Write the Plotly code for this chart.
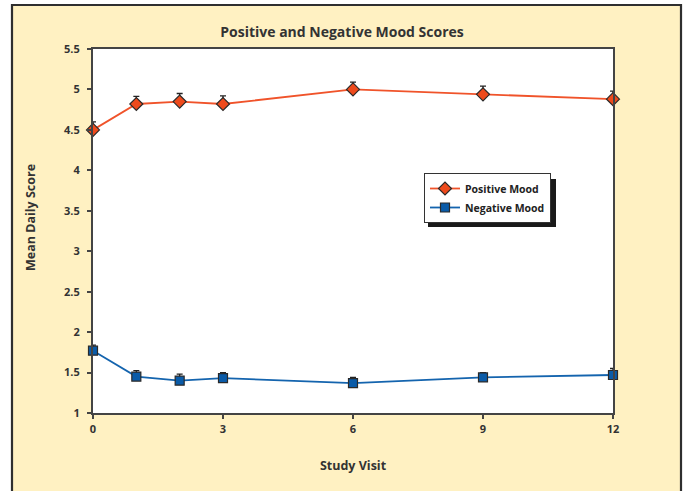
import plotly.graph_objects as go

# Mean daily mood scores by study visit (month)
visits = [0, 1, 2, 3, 6, 9, 12]
positive_mood = [4.50, 4.82, 4.85, 4.82, 5.00, 4.94, 4.88]
positive_err = [0.10, 0.095, 0.10, 0.10, 0.09, 0.10, 0.10]
negative_mood = [1.77, 1.45, 1.40, 1.43, 1.37, 1.44, 1.47]
negative_err = [0.07, 0.075, 0.08, 0.07, 0.07, 0.06, 0.08]

x_ticks = [0, 3, 6, 9, 12]
y_ticks = [1, 1.5, 2, 2.5, 3, 3.5, 4, 4.5, 5, 5.5]
y_labels = ["1", "1.5", "2", "2.5", "3", "3.5", "4", "4.5", "5", "5.5"]

FONT = "Open Sans"
INK = "#333333"

fig = go.Figure()

fig.add_trace(go.Scatter(
    x=visits, y=positive_mood, name="Positive Mood",
    mode="lines+markers",
    line=dict(color="#F0532A", width=1.8),
    marker=dict(symbol="diamond", size=10, color="#EE4A1C",
                line=dict(color="#2a2a2a", width=1.2)),
    error_y=dict(type="data", array=positive_err, symmetric=False,
                 arrayminus=[0] * len(visits), color="#222222",
                 thickness=1.3, width=3),
    cliponaxis=False,
))

fig.add_trace(go.Scatter(
    x=visits, y=negative_mood, name="Negative Mood",
    mode="lines+markers",
    line=dict(color="#1464AE", width=1.8),
    marker=dict(symbol="square", size=9, color="#0A5BA8",
                line=dict(color="#2a2a2a", width=1.2)),
    error_y=dict(type="data", array=negative_err, symmetric=False,
                 arrayminus=[0] * len(visits), color="#222222",
                 thickness=1.3, width=3),
    cliponaxis=False,
))

# plot area in pixels: left 93, right 613, top 49, bottom 413
PL, PR, PT, PB = 93, 613, 49, 413
W, H = 684, 491


def px(x):
    return (x - PL) / (PR - PL)


def py(y):
    return (PB - y) / (PB - PT)


shapes = [
    # pale yellow framed panel
    dict(type="rect", xref="paper", yref="paper", layer="below",
         x0=px(12), x1=px(681), y0=py(500), y1=py(5),
         fillcolor="#FFF1C2", line=dict(color="#2f2f2f", width=2.2)),
    # white plotting area
    dict(type="rect", xref="paper", yref="paper", layer="below",
         x0=0, x1=1, y0=0, y1=1, fillcolor="#FFFFFF", line=dict(width=0)),
    # legend drop shadow
    dict(type="rect", xref="paper", yref="paper", layer="above",
         x0=px(428), x1=px(556), y0=py(227), y1=py(179),
         fillcolor="#1a1a1a", line=dict(width=0)),
]

annotations = [
    dict(text="<b>Mean Daily Score</b>", textangle=-90,
         xref="paper", yref="paper", x=px(30), y=py(218),
         xanchor="center", yanchor="middle", showarrow=False,
         font=dict(family=FONT, size=12.5, color="#333333")),
]

tick_font = dict(family=FONT, size=11, color=INK, weight="bold")

fig.update_layout(
    width=W, height=H,
    margin=dict(l=PL, r=W - PR, t=PT, b=H - PB),
    paper_bgcolor="#FFFFFF",
    plot_bgcolor="#FFFFFF",
    font=dict(family=FONT, color=INK, size=11),
    title=dict(text="<b>Positive and Negative Mood Scores</b>",
               x=px(353), xanchor="center", y=1 - 32 / H, yanchor="middle",
               font=dict(family=FONT, size=14, color="#333333")),
    shapes=shapes,
    annotations=annotations,
    showlegend=True,
    legend=dict(x=px(424), y=py(173), xanchor="left", yanchor="top",
                bgcolor="#FFFFFF", bordercolor="#333333", borderwidth=1,
                font=dict(family=FONT, size=10.5, color="#222222", weight="bold"),
                tracegroupgap=0, itemwidth=30),
    xaxis=dict(
        range=[0, 12], tickvals=x_ticks, ticktext=[str(v) for v in x_ticks],
        showgrid=False, zeroline=False,
        showline=True, linecolor="#444444", linewidth=2, mirror=True,
        ticks="outside", ticklen=4, tickwidth=1.5, tickcolor="#444444",
        tickfont=tick_font, ticklabelstandoff=1,
        title=dict(text="<b>Study Visit</b>", standoff=26,
                   font=dict(family=FONT, size=12.5, color="#333333")),
    ),
    yaxis=dict(
        range=[1, 5.5], tickvals=y_ticks, ticktext=y_labels,
        showgrid=False, zeroline=False,
        showline=True, linecolor="#444444", linewidth=2, mirror=True,
        ticks="outside", ticklen=4, tickwidth=1.5, tickcolor="#444444",
        tickfont=tick_font, ticklabelstandoff=5,
    ),
)

fig.write_html("out.html")
